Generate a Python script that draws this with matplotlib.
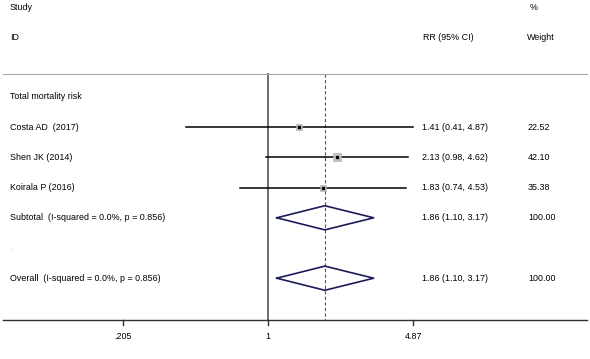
import matplotlib.pyplot as plt
import numpy as np

plt.rcParams['font.family'] = ['Liberation Sans', 'DejaVu Sans']

# study data
studies = ['Costa AD  (2017)', 'Shen JK (2014)', 'Koirala P (2016)']
rr = [1.41, 2.13, 1.83]
lo = [0.41, 0.98, 0.74]
hi = [4.87, 4.62, 4.53]
weights = [22.52, 42.10, 35.38]

pooled = (1.86, 1.10, 3.17)
summary_labels = ['Subtotal  (I-squared = 0.0%, p = 0.856)',
                  'Overall  (I-squared = 0.0%, p = 0.856)']
xticks = [0.205, 1, 4.87]
xtick_labels = ['.205', '1', '4.87']

fs = 6.4
W, H = 590, 359
fig = plt.figure(figsize=(W / 100, H / 100), dpi=100)
ax = fig.add_axes([0, 0, 1, 1])
ax.set_xscale('log')

# pixel layout of the log axis: 1 at 268 px, 91.6 px per ln unit
x0, k = 268.0, 91.6
ax.set_xlim(np.exp(-x0 / k), np.exp((W - x0) / k))
# rows are ~30 px apart, row 0 ("Total mortality risk") at 97 px
ax.set_ylim((H - 97) / 30.2, -97 / 30.2)
ax.axis('off')

tr = ax.get_yaxis_transform()  # x in axes fraction, y in data
def fx(px):
    return px / W

# header
ax.text(fx(10), -2.95, 'Study', transform=tr, fontsize=fs, va='center')
ax.text(fx(10), -1.97, 'ID', transform=tr, fontsize=fs, va='center')
ax.text(fx(448), -1.97, 'RR (95% CI)', transform=tr, fontsize=fs, va='center', ha='center')
ax.text(fx(530), -2.95, '%', transform=tr, fontsize=fs, va='center')
ax.text(fx(527), -1.97, 'Weight', transform=tr, fontsize=fs, va='center')
ax.plot([fx(3), fx(587)], [-0.77, -0.77], transform=tr, color='#a8a8a8', lw=0.8)

ax.text(fx(10), 0, 'Total mortality risk', transform=tr, fontsize=fs, va='center')

# reference lines
ax.plot([1, 1], [-0.77, 7.4], color='#6e6e6e', lw=1.4, zorder=1)
ax.plot([pooled[0], pooled[0]], [-0.77, 7.4], color='#a8323e', lw=0.8,
        ls=(0, (3, 2)), zorder=1)

# studies
for i in range(len(studies)):
    y = i + 1
    ax.plot([lo[i], hi[i]], [y, y], color='black', lw=1.1, zorder=2)
    side = np.sqrt(weights[i]) * 0.8
    ax.plot(rr[i], y, marker='s', ms=side, color='#c4c4c4', mec='#a5a5a5',
            mew=0.4, zorder=3)
    ax.plot(rr[i], y, marker='s', ms=1.5, color='black', zorder=4)
    ax.text(fx(10), y, studies[i], transform=tr, fontsize=fs, va='center')
    ax.text(fx(422), y, '%.2f (%.2f, %.2f)' % (rr[i], lo[i], hi[i]),
            transform=tr, fontsize=fs, va='center')
    ax.text(fx(528), y, '%.2f' % weights[i], transform=tr, fontsize=fs, va='center')

# pooled diamonds
for y, lab in zip([4, 6], summary_labels):
    est, l, h = pooled
    ax.plot([l, est, h, est, l], [y, y - 0.4, y, y + 0.4, y],
            color='#1c1c5c', lw=1.2, zorder=3)
    ax.text(fx(10), y, lab, transform=tr, fontsize=fs, va='center')
    ax.text(fx(422), y, '%.2f (%.2f, %.2f)' % (est, l, h),
            transform=tr, fontsize=fs, va='center')
    ax.text(fx(528), y, '100.00', transform=tr, fontsize=fs, va='center')
ax.text(fx(10), 5, '.', transform=tr, fontsize=fs, va='center', color='#c8c8c8')

# bottom axis
ax.plot([fx(3), fx(587)], [7.4, 7.4], transform=tr, color='#303030', lw=1.0)
for t, lab in zip(xticks, xtick_labels):
    ax.plot([t, t], [7.4, 7.55], color='#303030', lw=1.0)
    ax.text(t, 7.93, lab, fontsize=fs, ha='center', va='center')

fig.savefig('out.png', dpi=100, facecolor='white')
